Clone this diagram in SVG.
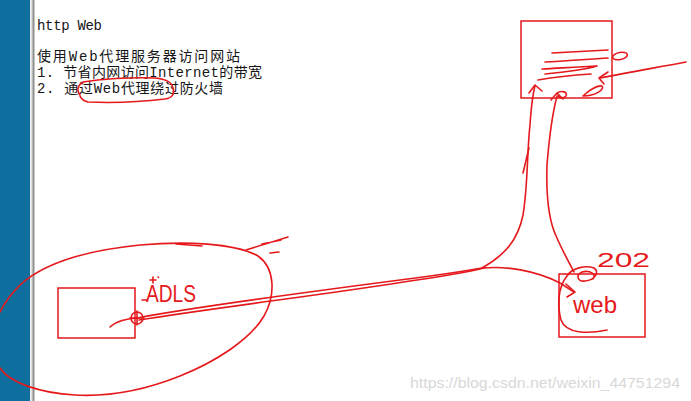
<svg xmlns="http://www.w3.org/2000/svg" width="691" height="401" viewBox="0 0 691 401">
<style>
.ink{fill:none;stroke:#e5191c;stroke-width:1.6;stroke-linecap:round;stroke-linejoin:round}
.box{fill:none;stroke:#e5191c;stroke-width:1.5}
.txt{font-family:"Liberation Mono","Noto Sans CJK SC",monospace;font-size:14px;fill:#161616}
.hand{font-family:"Liberation Sans",Arial,sans-serif;fill:#e5191c}
.wm{font-family:"Liberation Sans",Arial,sans-serif;font-size:15px;fill:#d8d8d8}
</style>
<rect x="0" y="0" width="691" height="401" fill="#ffffff"/>
<g id="sidebar">
<rect x="0" y="0" width="30" height="401" fill="#0e6e9e"/>
<rect x="30" y="0" width="1.5" height="401" fill="#eef2f4"/>
<rect x="31.5" y="0" width="1" height="401" fill="#c8c8c8"/>
<rect x="32.5" y="0" width="2" height="401" fill="#8f8f8f"/>
</g>
<g id="notes">
<text class="txt" x="37" y="30" textLength="65" lengthAdjust="spacing">http Web</text>
<text class="txt" x="37" y="61" textLength="203" lengthAdjust="spacing">使用Web代理服务器访问网站</text>
<text class="txt" x="37" y="77" textLength="225" lengthAdjust="spacing">1. 节省内网访问Internet的带宽</text>
<text class="txt" x="37" y="93" textLength="186" lengthAdjust="spacing">2. 通过Web代理绕过防火墙</text>
<path class="ink" d="M84,82 C 78,84 76,90 80,95 M83,82 C 100,79 130,77 155,78 C 166,79 172,82 173,88 C 175,94 172,98 165,99 C 140,102 110,103 88,102 C 84,101 81,99 80,96"/>
</g>
<g id="client-zone">
<path class="ink" d="M-8,335 C -5,318 5,300 20,285 C 45,262 90,250 140,245 C 185,241 235,243 258,256 C 275,268 276,295 264,316 C 250,340 215,362 180,376 C 145,390 110,397 75,395 C 40,393 10,383 0,368 C -8,358 -10,345 -8,335 Z"/>
<path class="ink" d="M176,244 L202,246 M246,250 L288,237 M262,244 L281,240 M270,253 L279,252"/>
</g>
<g id="adls">
<rect class="box" x="58" y="288" width="77" height="50"/>
<text class="hand" x="146" y="302" font-size="24" textLength="50" lengthAdjust="spacingAndGlyphs">ADLS</text>
<path class="ink" d="M150,280 L156,280 M153,277 L153,283 M158,277 L158.5,277.5 M142,300 L147,300"/>
</g>
<g id="proxy">
<rect class="box" x="521" y="21" width="91" height="77"/>
<path class="ink" d="M552,53 C 570,52 590,51 608,50 M545,62 C 565,61 590,59 608,58 M542,69 C 560,68 582,67 597,66 C 585,70 565,72 545,74 M538,80 C 555,77 575,75 591,74"/>
<ellipse class="ink" cx="620" cy="56" rx="7.5" ry="3.5" transform="rotate(-12 620 56)"/>
<path class="ink" d="M583,96 C 588,91 597,85 602,86 C 605,89 596,96 583,96 Z"/>
</g>
<g id="web">
<rect class="box" x="559" y="274" width="86" height="63"/>
<text class="hand" x="573" y="313" font-size="24" textLength="44" lengthAdjust="spacingAndGlyphs">web</text>
<text class="hand" x="597" y="267" font-size="21" textLength="53" lengthAdjust="spacingAndGlyphs">202</text>
<path class="ink" d="M567,276 C 572,268 585,265 594,268 C 600,272 595,280 585,281 C 578,282 575,275 582,272 C 590,270 597,274 593,279 M567,276 C 558,287 557,305 561,320 C 566,334 588,334 607,330"/>
</g>
<g id="connectors">
<path class="ink" d="M110,327 C 118,320 128,319 137,318 C 200,306 300,293 400,280 C 440,275 465,271 482,268"/>
<path class="ink" d="M139,320 C 220,307 330,294 410,281 C 445,276 468,272 484,268"/>
<circle class="ink" cx="137" cy="318" r="6"/>
<path class="ink" d="M130,318 L144,318 M137,311 L137,325"/>
<path class="ink" d="M482,268 C 505,255 518,240 523,215 C 528,185 527,150 530,125 C 531,110 532,97 535,86"/>
<path class="ink" d="M523,173 L529,148"/>
<path class="ink" d="M529,93 L535,85 L542,91"/>
<path class="ink" d="M557,96 C 552,115 549,140 547,165 C 546,195 548,220 557,238 C 563,252 569,262 574,272"/>
<path class="ink" d="M551,100 L557,93 L563,99 M557,93 C 562,90 568,92 566,96 C 563,99 559,98 558,96"/>
<path class="ink" d="M483,268 C 505,266 535,270 560,283 L574,292"/>
<path class="ink" d="M566,284 L575,292 L567,297"/>
<path class="ink" d="M686,62 C 660,67 630,72 600,78"/>
<path class="ink" d="M608,72 L599,78 L604,84"/>
</g>
<text class="wm" x="410" y="388" textLength="270" lengthAdjust="spacingAndGlyphs">https://blog.csdn.net/weixin_44751294</text>
</svg>
